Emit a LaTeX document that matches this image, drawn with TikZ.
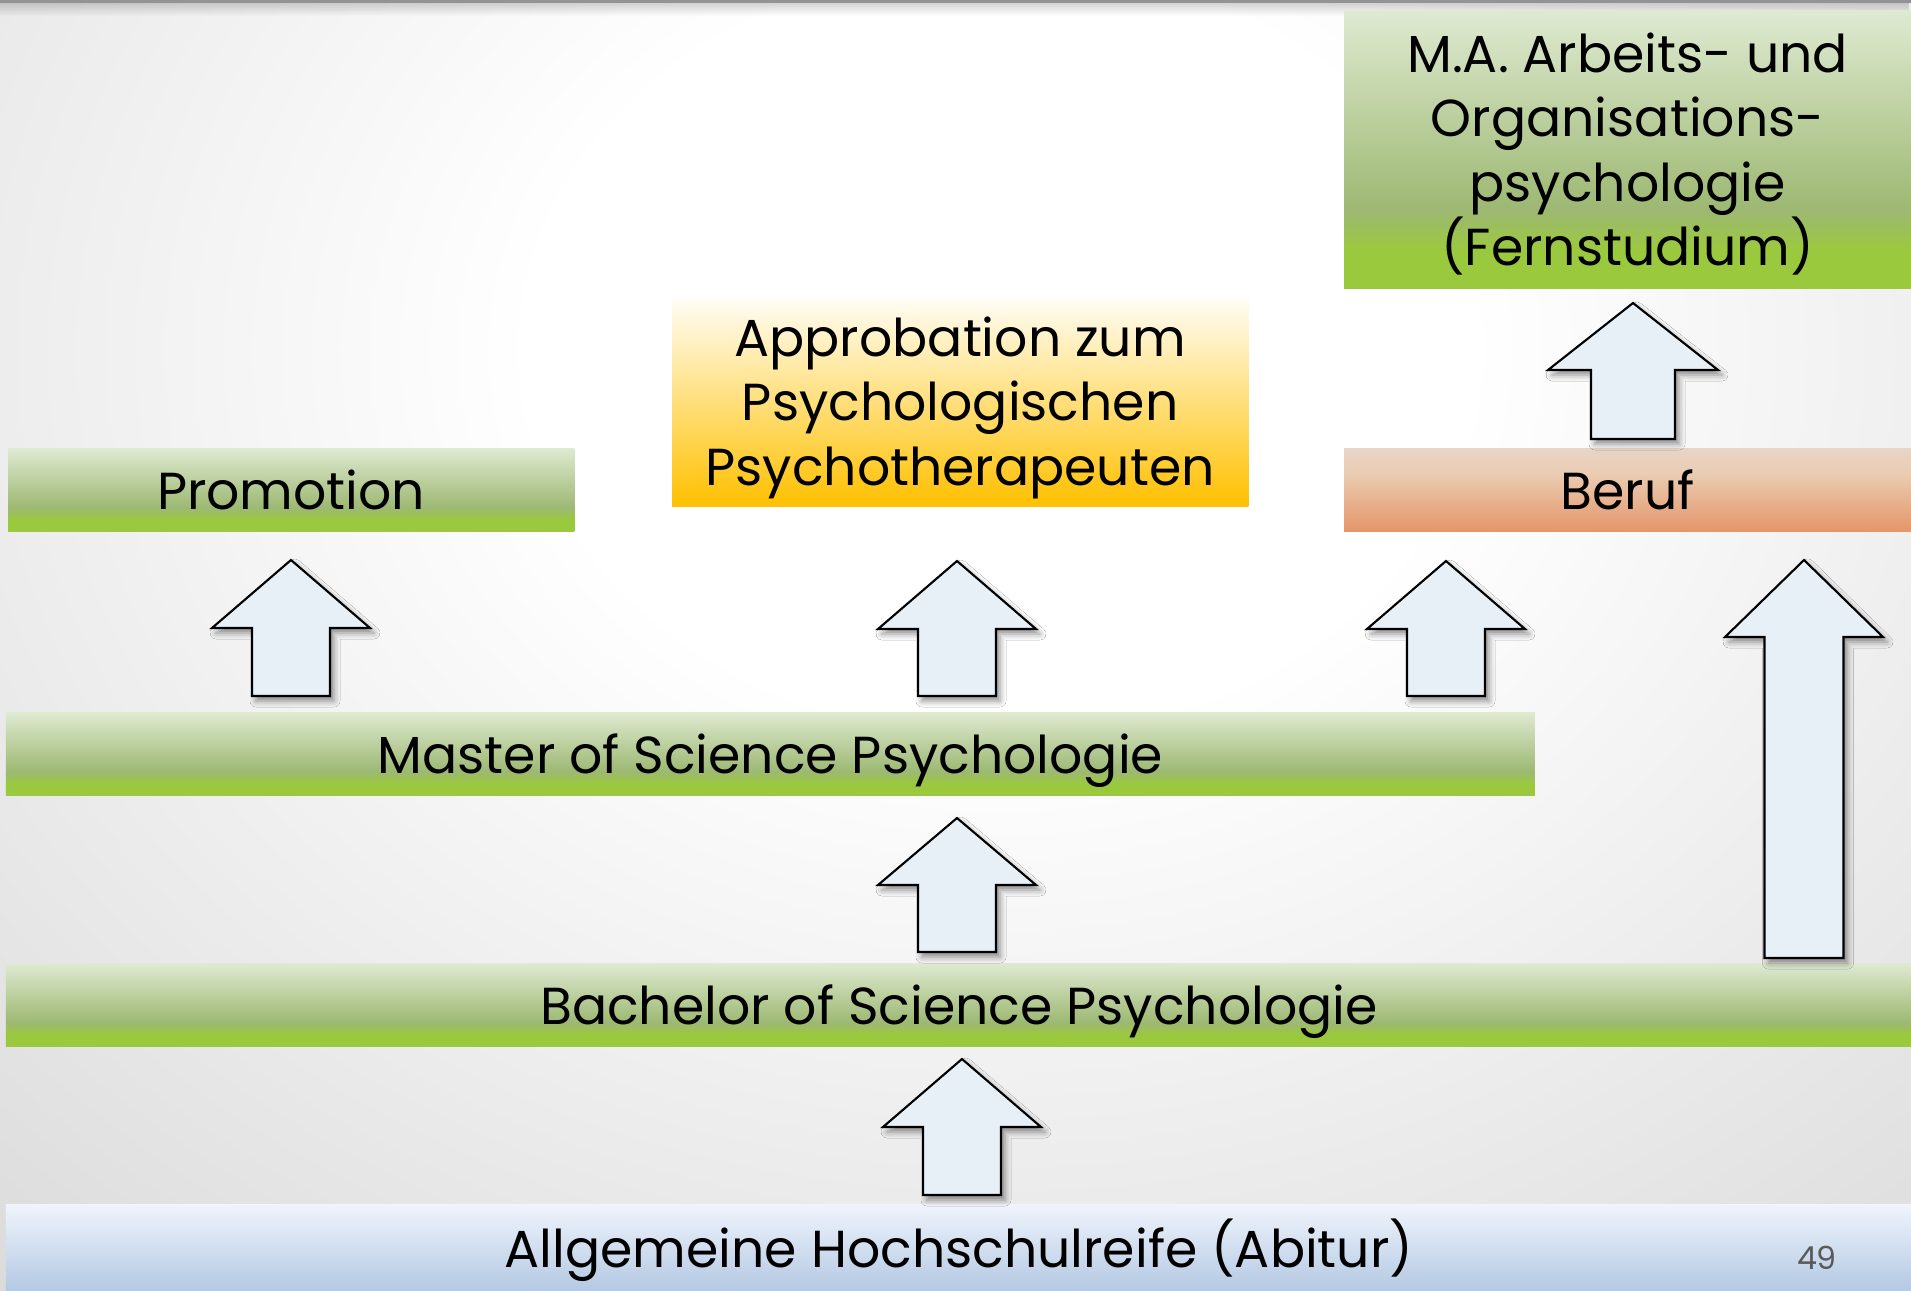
\documentclass[tikz,border=0pt]{standalone}
\usepackage{fontspec}
\setmainfont{Poppins}
\usepackage{xcolor}
\usetikzlibrary{
  positioning,
  shadows.blur,
  fadings
}

\definecolor{gtop}{HTML}{DFEAD2}
\definecolor{gmid}{HTML}{9DB872}
\definecolor{gbot}{HTML}{9BC93E}
\definecolor{btop}{HTML}{E8D5C8}
\definecolor{bmid}{HTML}{EACDB3}
\definecolor{bbot}{HTML}{E5956A}
\definecolor{atop}{HTML}{FFFEF8}
\definecolor{abot}{HTML}{FFC000}
\definecolor{ltop}{HTML}{F0F4FC}
\definecolor{lbot}{HTML}{B4C9E3}
\definecolor{arrowfill}{HTML}{E8F0F7}
\definecolor{bgedge}{HTML}{E8E8E8}
\definecolor{bgcorner}{HTML}{DADADA}
\definecolor{pagenum}{HTML}{595959}

\pgfdeclareverticalshading{greenfade}{100bp}{color(0bp)=(gbot); color(32bp)=(gbot); color(39bp)=(gmid); color(75bp)=(gtop); color(100bp)=(gtop)}
\pgfdeclareverticalshading{berufshade}{100bp}{color(0bp)=(bbot); color(25bp)=(bbot); color(60bp)=(bmid); color(75bp)=(btop); color(100bp)=(btop)}
\pgfdeclareradialshading{bgglow}{\pgfpoint{0bp}{0bp}}{color(0bp)=(white); color(9bp)=(white); color(22bp)=(bgedge); color(30bp)=(bgcorner); color(50bp)=(bgcorner)}

\tikzset{
  stage/.style={inner sep=0pt, outer sep=0pt, align=center, anchor=north west,
    text depth=0pt, font=\fontsize{14.8}{18.3}\selectfont},
  greenstage/.style={stage, shading=greenfade},
  jobstage/.style={stage, shading=berufshade},
  approbstage/.style={stage, top color=atop, bottom color=abot},
  schoolstage/.style={stage, top color=ltop, bottom color=lbot, text depth=0.08cm},
  upblock/.style={draw=black, line width=0.6pt, fill=arrowfill, line join=miter,
    blur shadow={shadow xshift=0.04cm, shadow yshift=-0.05cm,
      shadow blur radius=0.06cm, shadow opacity=45}}
}

% block arrow: x, tip, bottom, head height, head half width, stem half width
\newcommand{\blockup}[6]{%
  \draw[upblock] (#1,#2) -- ({#1+#5},{#2+#4}) -- ({#1+#6},{#2+#4}) -- ({#1+#6},#3)
    -- ({#1-#6},#3) -- ({#1-#6},{#2+#4}) -- ({#1-#5},{#2+#4}) -- cycle;}

\begin{document}
\begin{tikzpicture}[x=0.01cm, y=-0.01cm]

	\useasboundingbox (0,0) rectangle (1911,1290);

	% background
	\begin{scope}
		\clip (0,0) rectangle (1911,1290);
		\shade[shading=bgglow] (-300,-700) rectangle (2300,1400);
		\fill[black, opacity=0.18, path fading=south] (0,2) rectangle (1911,16);
		\fill[gray!85] (0,0) rectangle (1911,2.5);
	\end{scope}

	% stages
	\node[greenstage, minimum width=5.66cm, minimum height=0.83cm] (promo) at (8,448) {Promotion};
	\node[approbstage, minimum width=5.76cm, minimum height=2.10cm] (approb) at (672,296)
		{Approbation zum\\Psychologischen\\Psychotherapeuten};
	\node[jobstage, minimum width=5.67cm, minimum height=0.83cm] (beruf) at (1344,448) {Beruf};
	\node[greenstage, minimum width=5.67cm, minimum height=2.78cm] (mafern) at (1344,10)
		{M.A. Arbeits- und\\Organisations-\\psychologie\\(Fernstudium)};
	\node[greenstage, minimum width=15.28cm, minimum height=0.83cm] (master) at (6,712)
		{Master of Science Psychologie};
	\node[greenstage, minimum width=19.05cm, minimum height=0.83cm] (bachelor) at (6,963)
		{Bachelor of Science Psychologie};
	\node[schoolstage, minimum width=19.05cm, minimum height=0.86cm] (abitur) at (6,1204)
		{Allgemeine Hochschulreife (Abitur)};

	\node[text=pagenum, font=\fontsize{9}{10}\selectfont] (pageno) at (1817,1258) {49};

	% arrows
	\blockup{291}{560}{696}{68}{79}{39}
	\blockup{957}{561}{696}{68}{79}{39}
	\blockup{1446}{561}{696}{68}{79}{39}
	\blockup{957}{818}{952}{67}{79}{39}
	\blockup{962}{1059}{1195}{68}{79}{39}
	\blockup{1633}{303}{439}{67}{85}{42}
	\blockup{1804}{560}{958}{77}{79}{39.5}

\end{tikzpicture}
\end{document}
